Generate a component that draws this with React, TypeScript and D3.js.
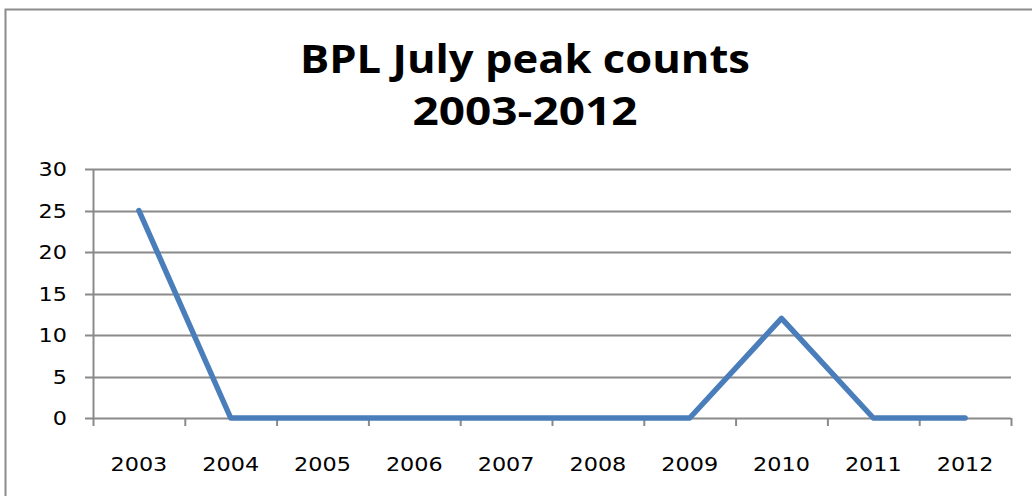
import React, { useRef, useEffect } from "react";
import * as d3 from "d3";

const years = ["2003", "2004", "2005", "2006", "2007", "2008", "2009", "2010", "2011", "2012"];
const counts = [25, 0, 0, 0, 0, 0, 0, 12, 0, 0];
const yTicks = [0, 5, 10, 15, 20, 25, 30];
const titleLines = ["BPL July peak counts", "2003-2012"];

const App = () => {
  const ref = useRef<SVGSVGElement | null>(null);

  useEffect(() => {
    const width = 1032;
    const height = 496;
    const margin = { top: 169, right: 21, bottom: 78, left: 93 };
    const svg = d3.select(ref.current);
    svg.selectAll("*").remove();

    svg.append("rect").attr("width", width).attr("height", height).attr("fill", "#fff");

    // outer frame (only left and top visible in the crop)
    svg.append("path")
      .attr("d", `M5.5,${height} V9.5 H${width}`)
      .attr("fill", "none")
      .attr("stroke", "#8c8c8c")
      .attr("stroke-width", 2);

    const x = d3.scaleBand().domain(years).range([margin.left, width - margin.right]);
    const y = d3.scaleLinear().domain([0, 30]).range([height - margin.bottom, margin.top]);

    // title - stretched a bit wider like the original rendering
    const titleWidths = [450, 225];
    svg.append("g")
      .selectAll("text")
      .data(titleLines)
      .enter()
      .append("text")
      .attr("x", 525 - 0)
      .attr("y", (d, i) => 73 + i * 52)
      .attr("text-anchor", "middle")
      .attr("textLength", (d, i) => titleWidths[i])
      .attr("lengthAdjust", "spacingAndGlyphs")
      .style("font-family", "'Open Sans', sans-serif")
      .style("font-weight", "bold")
      .style("font-size", "39px")
      .text(d => d);

    // grid lines
    svg.append("g")
      .selectAll("line")
      .data(yTicks)
      .enter()
      .append("line")
      .attr("x1", margin.left - 8)
      .attr("x2", width - margin.right)
      .attr("y1", d => Math.round(y(d)) + 0.5)
      .attr("y2", d => Math.round(y(d)) + 0.5)
      .attr("stroke", "#8a8a8a")
      .attr("stroke-width", 2);

    // y axis line
    svg.append("line")
      .attr("x1", margin.left + 0.5)
      .attr("x2", margin.left + 0.5)
      .attr("y1", y(30))
      .attr("y2", y(0))
      .attr("stroke", "#8a8a8a")
      .attr("stroke-width", 2);

    // x tick marks at band edges
    const edges = years.map(d => x(d) as number).concat([width - margin.right]);
    svg.append("g")
      .selectAll("line")
      .data(edges)
      .enter()
      .append("line")
      .attr("x1", d => d + 0.5)
      .attr("x2", d => d + 0.5)
      .attr("y1", y(0))
      .attr("y2", y(0) + 8)
      .attr("stroke", "#8a8a8a")
      .attr("stroke-width", 2);

    const labelStyle = (sel: any) =>
      sel
        .style("font-family", "'DejaVu Sans', Verdana, sans-serif")
        .style("font-size", "19.5px")
        .attr("fill", "#000")
        .attr("textLength", (d: any) => String(d).length * 14.2)
        .attr("lengthAdjust", "spacingAndGlyphs");

    svg.append("g")
      .selectAll("text")
      .data(yTicks)
      .enter()
      .append("text")
      .attr("x", 67)
      .attr("y", d => y(d))
      .attr("dy", "0.36em")
      .attr("text-anchor", "end")
      .call(labelStyle)
      .text(d => d);

    svg.append("g")
      .selectAll("text")
      .data(years)
      .enter()
      .append("text")
      .attr("x", d => (x(d) as number) + x.bandwidth() / 2)
      .attr("y", 464)
      .attr("dy", "0.36em")
      .attr("text-anchor", "middle")
      .call(labelStyle)
      .text(d => d);

    const line = d3.line<number>()
      .x((d, i) => (x(years[i]) as number) + x.bandwidth() / 2)
      .y(d => y(d));

    svg.append("path")
      .datum(counts)
      .attr("d", line)
      .attr("fill", "none")
      .attr("stroke", "#4a7ebb")
      .attr("stroke-width", 5.5)
      .attr("stroke-linejoin", "round")
      .attr("stroke-linecap", "round");
  }, []);

  return (
    <svg
      ref={ref}
      width={1032}
      height={496}
      style={{ position: "absolute", left: 0, top: 0, display: "block" }}
    />
  );
};

export default App;
